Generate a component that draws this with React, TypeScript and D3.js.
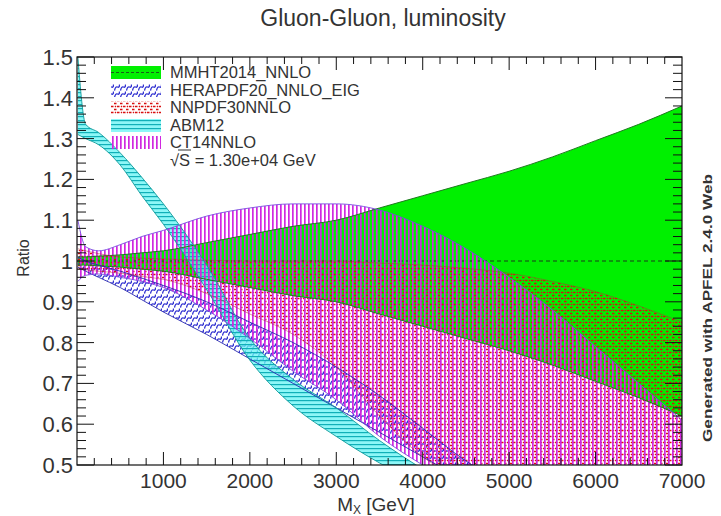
import * as d3 from "d3";

// mass grid (GeV) shared by all bands
const mass = [10, 100, 250, 500, 750, 1000, 1500, 2000, 2500, 3000, 3500, 4000, 4500, 5000, 5500, 6000, 6500, 7000];

const mmhtLo = [0.99, 0.99, 0.988, 0.985, 0.98, 0.975, 0.955, 0.935, 0.915, 0.9, 0.87, 0.84, 0.81, 0.78, 0.745, 0.705, 0.665, 0.62];
const mmhtHi = [1.01, 1.01, 1.012, 1.015, 1.02, 1.025, 1.045, 1.065, 1.085, 1.1, 1.13, 1.16, 1.19, 1.22, 1.255, 1.295, 1.335, 1.38];

const heraLo = [0.985, 0.975, 0.96, 0.935, 0.905, 0.875, 0.82, 0.76, 0.7, 0.64, 0.58, 0.52, 0.46, 0.4, 0.36, 0.33, 0.3, 0.28];
const heraHi = [1.01, 1.0, 0.99, 0.975, 0.958, 0.94, 0.9, 0.85, 0.8, 0.74, 0.67, 0.59, 0.51, 0.45, 0.42, 0.4, 0.38, 0.36];

const nnpdfLo = [0.98, 0.978, 0.975, 0.97, 0.962, 0.955, 0.92, 0.87, 0.82, 0.74, 0.62, 0.52, 0.46, 0.42, 0.4, 0.38, 0.36, 0.34];
const nnpdfHi = [1.03, 1.025, 1.018, 1.01, 1.007, 1.005, 1.002, 1.0, 1.0, 1.0, 0.995, 0.99, 0.982, 0.97, 0.95, 0.925, 0.89, 0.85];

const abmLo = [1.31, 1.3, 1.285, 1.235, 1.16, 1.09, 0.93, 0.757, 0.645, 0.57, 0.505, 0.45, 0.4, 0.37, 0.35, 0.33, 0.31, 0.3];
const abmHi = [1.5, 1.335, 1.315, 1.265, 1.205, 1.14, 0.99, 0.81, 0.71, 0.64, 0.56, 0.49, 0.43, 0.4, 0.38, 0.36, 0.34, 0.32];

const ct14Lo = [0.95, 0.965, 0.968, 0.96, 0.95, 0.935, 0.88, 0.81, 0.73, 0.66, 0.57, 0.5, 0.44, 0.4, 0.36, 0.33, 0.3, 0.28];
const ct14Hi = [1.1, 1.035, 1.025, 1.04, 1.06, 1.075, 1.11, 1.13, 1.14, 1.14, 1.125, 1.085, 1.03, 0.96, 0.88, 0.79, 0.7, 0.61];

const legendLabels = ["MMHT2014_NNLO", "HERAPDF20_NNLO_EIG", "NNPDF30NNLO", "ABM12", "CT14NNLO"];
const xTickLabels = [1000, 2000, 3000, 4000, 5000, 6000, 7000];
const yTickLabels = [0.5, 0.6, 0.7, 0.8, 0.9, 1, 1.1, 1.2, 1.3, 1.4, 1.5];

const W = 721;
const H = 516;
const left = 77;
const right = 682;
const top = 57;
const bottom = 465;
const font = "'Liberation Sans', Arial, sans-serif";

const x = d3.scaleLinear().domain([0, 7000]).range([left, right]);
const y = d3.scaleLinear().domain([0.5, 1.5]).range([bottom, top]);

const band = (lo, hi) => mass.map((m, i) => ({ m, lo: lo[i], hi: hi[i] }));

const area = d3
  .area()
  .x((d) => x(d.m))
  .y0((d) => y(d.lo))
  .y1((d) => y(d.hi))
  .curve(d3.curveMonotoneX);

const lineLo = d3.line().x((d) => x(d.m)).y((d) => y(d.lo)).curve(d3.curveMonotoneX);
const lineHi = d3.line().x((d) => x(d.m)).y((d) => y(d.hi)).curve(d3.curveMonotoneX);

const bands = [
  { key: "mmht", data: band(mmhtLo, mmhtHi), fill: "#00f000", edge: "#1f7a1f", op: 1 },
  { key: "hera", data: band(heraLo, heraHi), fill: "url(#pHera)", edge: "#2a2ab0", op: 0.9 },
  { key: "nnpdf", data: band(nnpdfLo, nnpdfHi), fill: "url(#pNnpdf)", edge: "#b03030", op: 0.45 },
  { key: "abm", data: band(abmLo, abmHi), fill: "url(#pAbm)", edge: "#109a9a", op: 0.9 },
  { key: "ct14", data: band(ct14Lo, ct14Hi), fill: "url(#pCt14)", edge: "#7a4ae0", op: 0.9 },
];

function App() {
  const xMinor = d3.range(200, 7000, 200);
  const yMinor = d3.range(0.5, 1.5001, 0.02);
  const rowY = [72, 90, 107, 125, 142];

  return (
    <svg
      width={W}
      height={H}
      viewBox={`0 0 ${W} ${H}`}
      style={{ position: "absolute", left: 0, top: 0, background: "#fff" }}
      fontFamily={font}
    >
      <defs>
        <clipPath id="plotClip">
          <rect x={left} y={top} width={right - left} height={bottom - top} />
        </clipPath>
        <pattern id="pHera" patternUnits="userSpaceOnUse" width="6" height="7">
          <path d="M0.5,6.5 Q1.5,2 3.5,3 T5.5,0.5" fill="none" stroke="#3030d0" strokeWidth="1.3" />
        </pattern>
        <pattern id="pNnpdf" patternUnits="userSpaceOnUse" width="6" height="6">
          <path d="M0,1.5 L2.5,1.5 M3,4.5 L5.5,4.5 M1,4 L2,5" stroke="#d81010" strokeWidth="1.3" />
        </pattern>
        <pattern id="pAbm" patternUnits="userSpaceOnUse" width="4" height="4">
          <rect width="4" height="4" fill="#66f4f4" opacity="0.75" />
          <path d="M0,0.6 L4,0.6" stroke="#10b0b8" strokeWidth="1.2" />
        </pattern>
        <pattern id="pCt14" patternUnits="userSpaceOnUse" width="4" height="4">
          <rect width="1.7" height="4" fill="#d028e0" />
        </pattern>
      </defs>

      {/* title */}
      <text x={383} y={26} textAnchor="middle" fontSize={23} fill="#333">
        Gluon-Gluon, luminosity
      </text>

      {/* bands */}
      <g clipPath="url(#plotClip)">
        {bands.map((b, i) => (
          <g key={b.key}>
            <path d={area(b.data)} fill={b.fill} />
            {i === 0 && (
              <line
                x1={left}
                x2={right}
                y1={y(1)}
                y2={y(1)}
                stroke="#1a3a1a"
                strokeWidth={1}
                strokeDasharray="4 3"
              />
            )}
          </g>
        ))}
        {bands.map((b) => (
          <g key={b.key + "-edge"} fill="none" stroke={b.edge} strokeWidth={1} strokeOpacity={b.op}>
            <path d={lineLo(b.data)} />
            <path d={lineHi(b.data)} />
          </g>
        ))}
      </g>

      {/* frame */}
      <rect x={left} y={top} width={right - left} height={bottom - top} fill="none" stroke="#111" strokeWidth={1.2} />

      {/* ticks, pointing inward on all four sides */}
      <g stroke="#111" strokeWidth={1}>
        {xMinor.map((v) => {
          const major = v % 1000 === 0;
          const len = major ? 13 : 7;
          return (
            <g key={"xt" + v}>
              <line x1={x(v)} x2={x(v)} y1={bottom} y2={bottom - len} />
              <line x1={x(v)} x2={x(v)} y1={top} y2={top + len} />
            </g>
          );
        })}
        {yMinor.map((v, i) => {
          const major = i % 5 === 0;
          const len = major ? 17 : 9;
          return (
            <g key={"yt" + i}>
              <line x1={left} x2={left + len} y1={y(v)} y2={y(v)} />
              <line x1={right} x2={right - len} y1={y(v)} y2={y(v)} />
            </g>
          );
        })}
      </g>

      {/* tick labels */}
      <g fill="#333" fontSize={22}>
        {xTickLabels.map((v) => (
          <text key={"xl" + v} x={x(v)} y={bottom + 23} textAnchor="middle" fontSize={21}>
            {v}
          </text>
        ))}
        {yTickLabels.map((v) => (
          <text key={"yl" + v} x={left - 4} y={y(v) + 8} textAnchor="end">
            {v}
          </text>
        ))}
      </g>

      {/* axis titles */}
      <text x={376} y={511} textAnchor="middle" fontSize={19} fill="#333">
        M<tspan fontSize={12} dy={3}>X</tspan>
        <tspan dy={-3}> [GeV]</tspan>
      </text>
      <text transform="translate(29,258) rotate(-90)" textAnchor="middle" fontSize={16} fill="#333">
        Ratio
      </text>
      <text
        transform="translate(712,308) rotate(-90)"
        textAnchor="middle"
        fontSize={12}
        fontWeight="bold"
        fill="#333"
        textLength={268}
        lengthAdjust="spacingAndGlyphs"
      >
        Generated with APFEL 2.4.0 Web
      </text>

      {/* legend */}
      <g>
        {legendLabels.map((lab, i) => {
          const b = bands[i];
          return (
            <g key={lab}>
              <rect x={111} y={rowY[i] - 6} width={50} height={13} fill={b.fill} />
              {i === 0 && (
                <line x1={111} x2={161} y1={rowY[i] + 0.5} y2={rowY[i] + 0.5} stroke="#1a5a1a" strokeDasharray="3 2" />
              )}
              <text x={170} y={rowY[i] + 6} fontSize={16.5} fill="#333">
                {lab}
              </text>
            </g>
          );
        })}
        <text x={170} y={166} fontSize={16.5} fill="#333">
          √<tspan>S = 1.30e+04 GeV</tspan>
        </text>
        <line x1={178} x2={191} y1={150} y2={150} stroke="#333" strokeWidth={1} />
      </g>
    </svg>
  );
}

export default App;
